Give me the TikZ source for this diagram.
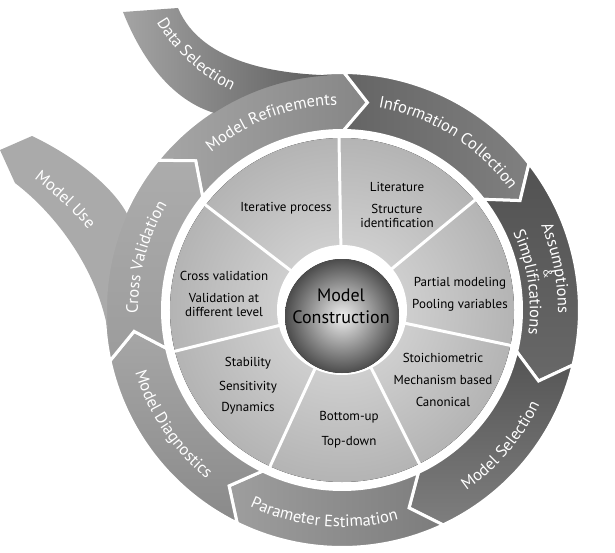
\documentclass[tikz,border=0pt]{standalone}
\usepackage{fontspec}
\setmainfont{PT Sans}
\usepackage{tikz}
\usetikzlibrary{positioning,decorations.text}
\usepackage{xcolor}
\definecolor{mrlight}{RGB}{166,166,166}
\definecolor{mrdark}{RGB}{134,134,134}
\definecolor{dslight}{RGB}{164,164,164}
\definecolor{dsdark}{RGB}{92,92,92}
\definecolor{iclight}{RGB}{128,128,128}
\definecolor{icdark}{RGB}{100,100,100}
\definecolor{aslight}{RGB}{104,104,104}
\definecolor{asdark}{RGB}{82,82,82}
\definecolor{mslight}{RGB}{126,126,126}
\definecolor{msdark}{RGB}{84,84,84}
\definecolor{pelight}{RGB}{158,158,158}
\definecolor{pedark}{RGB}{124,124,124}
\definecolor{mdlight}{RGB}{166,166,166}
\definecolor{mddark}{RGB}{138,138,138}
\definecolor{cvlight}{RGB}{172,172,172}
\definecolor{cvdark}{RGB}{156,156,156}
\definecolor{mulight}{RGB}{170,170,170}
\definecolor{wedgein}{RGB}{222,222,222}
\definecolor{wedgeout}{RGB}{180,180,180}
\definecolor{corein}{RGB}{238,238,238}
\definecolor{coreout}{RGB}{76,76,76}
\newcommand{\ringfont}{\fontsize{16.5}{19}\selectfont}
\tikzstyle{ringseg} = [draw=white, line width=3pt]
\tikzstyle{spoke} = [draw=white, line width=3pt]
\tikzstyle{wedgetext} = [align=center, font=\fontsize{13}{13.5}\selectfont]
\tikzstyle{ringtext} = [decorate, decoration={text along path, text align=center, text color=white}]

\begin{document}
\begin{tikzpicture}[x=1pt,y=1pt]
\useasboundingbox (-342,-242) rectangle (273,310);

% Outer ring, one arrow per step
\shadedraw[ringseg, left color=mrlight, right color=mrdark] (140.93:237.5) arc[start angle=140.93, end angle=89.5, radius=237.5] -- (83:209) -- (89.5:179.5) arc[start angle=89.5, end angle=140.93, radius=179.5] -- (134.43:209) -- cycle;
\shadedraw[ringseg, left color=icdark, right color=iclight] (89.5:237.5) arc[start angle=89.5, end angle=38.07, radius=237.5] -- (31.57:209) -- (38.07:179.5) arc[start angle=38.07, end angle=89.5, radius=179.5] -- (83:209) -- cycle;
\shadedraw[ringseg, top color=asdark, bottom color=aslight] (38.07:237.5) arc[start angle=38.07, end angle=-13.36, radius=237.5] -- (-19.86:209) -- (-13.36:179.5) arc[start angle=-13.36, end angle=38.07, radius=179.5] -- (31.57:209) -- cycle;
\shadedraw[ringseg, top color=msdark, bottom color=mslight] (-13.36:237.5) arc[start angle=-13.36, end angle=-64.79, radius=237.5] -- (-71.29:209) -- (-64.79:179.5) arc[start angle=-64.79, end angle=-13.36, radius=179.5] -- (-19.86:209) -- cycle;
\shadedraw[ringseg, left color=pelight, right color=pedark] (-64.79:237.5) arc[start angle=-64.79, end angle=-116.21, radius=237.5] -- (-122.71:209) -- (-116.21:179.5) arc[start angle=-116.21, end angle=-64.79, radius=179.5] -- (-71.29:209) -- cycle;
\shadedraw[ringseg, top color=mdlight, bottom color=mddark] (-116.21:237.5) arc[start angle=-116.21, end angle=-167.64, radius=237.5] -- (-174.14:209) -- (-167.64:179.5) arc[start angle=-167.64, end angle=-116.21, radius=179.5] -- (-122.71:209) -- cycle;
\shadedraw[ringseg, top color=cvlight, bottom color=cvdark] (-167.64:237.5) arc[start angle=-167.64, end angle=-219.07, radius=237.5] -- (-225.57:209) -- (-219.07:179.5) arc[start angle=-219.07, end angle=-167.64, radius=179.5] -- (-174.14:209) -- cycle;

% Branches in and out
\shade[left color=dslight, right color=dsdark] (-219,298) .. controls (-200,250) and (-170,210) .. (123:235) arc[start angle=123, end angle=93, radius=235] .. controls (-60,236) and (-140,245) .. (-164,302) -- cycle;
\fill[mulight] (185:235) .. controls (-245,40) and (-285,95) .. (-327,127) -- (-342,160) -- (-310,174) .. controls (-270,155) and (-230,125) .. (156:235) arc[start angle=156, end angle=185, radius=235] -- cycle;

% Inner disk with seven wedges
\fill[inner color=wedgein, outer color=wedgeout] (0,0) circle (172);
\draw[spoke] (91:60) -- (91:175);
\draw[spoke] (39.57:60) -- (39.57:175);
\draw[spoke] (-11.86:60) -- (-11.86:175);
\draw[spoke] (-63.29:60) -- (-63.29:175);
\draw[spoke] (-114.71:60) -- (-114.71:175);
\draw[spoke] (-166.14:60) -- (-166.14:175);
\draw[spoke] (142.43:60) -- (142.43:175);
\fill[white] (0,0) circle (65);
\fill[inner color=corein, outer color=coreout] (0,-6) circle (57);
\node[font=\fontsize{18}{22}\selectfont, align=center] (core) at (-1,4) {Model\\Construction};

% What each wedge holds
\node[wedgetext] (iter) at (-56,102) {Iterative process};
\node[wedgetext] (lit) at (55,105) {Literature\\[8.5pt]Structure\\identification};
\node[wedgetext] (partial) at (118,16) {Partial modeling\\[8.5pt]Pooling variables};
\node[wedgetext] (stoich) at (101,-70) {Stoichiometric\\[8.5pt]Mechanism based\\[8.5pt]Canonical};
\node[wedgetext] (bottom) at (7,-120) {Bottom-up\\[11.5pt]Top-down};
\node[wedgetext] (stab) at (-94,-76) {Stability\\[10.5pt]Sensitivity\\[7.5pt]Dynamics};
\node[wedgetext] (cross) at (-118,16) {Cross validation\\[8.5pt]Validation at\\different level};

% Step names along the ring
\path[ringtext, decoration={text={|\ringfont|Model Refinements}}] (155.5:205) arc[start angle=155.5, end angle=65.5, radius=205];
\path[ringtext, decoration={text={|\ringfont|Information Collection}}] (102.7:206) arc[start angle=102.7, end angle=12.7, radius=206];
\path[ringtext, decoration={text={|\ringfont|Assumptions}}] (56:216) arc[start angle=56, end angle=-34, radius=216];
\node[text=white, font=\fontsize{12}{12}\selectfont, rotate=-80] (amp) at (10:209) {\&};
\path[ringtext, decoration={text={|\ringfont|Simplifications}}] (53.5:188) arc[start angle=53.5, end angle=-36.5, radius=188];
\path[ringtext, decoration={text={|\ringfont|Model Selection}}] (-85.5:219) arc[start angle=-85.5, end angle=4.5, radius=219];
\path[ringtext, decoration={text={|\ringfont|Parameter Estimation}}] (-140:217) arc[start angle=-140, end angle=-50, radius=217];
\path[ringtext, decoration={text={|\ringfont|Model Diagnostics}}] (-191:216) arc[start angle=-191, end angle=-101, radius=216];
\path[ringtext, decoration={text={|\ringfont|Cross Validation}}] (210:204) arc[start angle=210, end angle=120, radius=204];
\path[ringtext, decoration={text={|\ringfont|Model Use}}] (-337,151) .. controls (-297,126) and (-264,98) .. (-232,53);
\path[ringtext, decoration={text={|\ringfont|Data Selection}}] (-187,291) .. controls (-172,263) and (-142,233) .. (-107,218);
\end{tikzpicture}
\end{document}
